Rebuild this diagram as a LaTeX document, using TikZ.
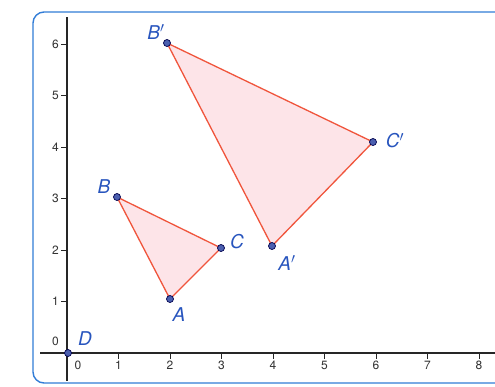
\documentclass[tikz,border=0pt]{standalone}
\usepackage{fontspec}
\setmainfont{TeX Gyre Heros}
\begin{document}
\begin{tikzpicture}[x=1pt,y=-1pt,
  frameline/.style={draw=framec,line width=1.4pt},
  axisline/.style={draw=black!85,line width=1.1pt},
  tickmark/.style={draw=black!85,line width=0.8pt},
  ticklabel/.style={font=\fontsize{12}{12}\selectfont,text=black!80,inner sep=0pt},
  tri/.style={draw=trired,fill=trifill,line width=1.3pt,line join=round},
  ptdot/.style={circle,draw=black!70!blue,fill=dotc,line width=0.7pt,minimum size=7pt,inner sep=0pt},
  ptlabel/.style={font=\fontsize{19}{19}\selectfont\itshape,text=labc,inner sep=0pt}]
\definecolor{framec}{RGB}{50,125,215}
\definecolor{trired}{RGB}{240,85,60}
\definecolor{trifill}{RGB}{253,228,232}
\definecolor{dotc}{RGB}{75,95,175}
\definecolor{labc}{RGB}{40,85,190}
\useasboundingbox (0,0) rectangle (495,386);
\fill[white] (0,0) rectangle (495,386);
% frame
\draw[frameline,rounded corners=11pt] (505,12) -- (33,12) -- (33,383) -- (505,383);
% axes
\draw[axisline] (40,353) -- (495,353);
\draw[axisline] (67,17) -- (67,381);
% y ticks
\foreach \i in {1,...,6} {
  \draw[tickmark] (61,353-51.5*\i) -- (67,353-51.5*\i);
  \node[ticklabel,anchor=east] (yl\i) at (59,353-51.5*\i) {\i};
}
\node[ticklabel,anchor=east] (yl0) at (59,341) {0};
% x ticks
\foreach \i in {1,...,8} {
  \draw[tickmark] (67+51.5*\i,353) -- (67+51.5*\i,359);
  \node[ticklabel,anchor=north] (xl\i) at (67+51.5*\i,361) {\i};
}
\node[ticklabel,anchor=north] (xl0) at (78,361) {0};
% points
\coordinate (A) at (170,299);
\coordinate (B) at (117,197);
\coordinate (C) at (221,248);
\coordinate (Ap) at (272,246);
\coordinate (Bp) at (167,43);
\coordinate (Cp) at (373,142);
\coordinate (D) at (68,353);
% triangles
\draw[tri] (A) -- (B) -- (C) -- cycle;
\draw[tri] (Ap) -- (Bp) -- (Cp) -- cycle;
% dots
\foreach \p in {A,B,C,Ap,Bp,Cp,D} { \node[ptdot] (d\p) at (\p) {}; }
% labels
\node[ptlabel] (lA) at (179,315) {A};
\node[ptlabel] (lB) at (104,187) {B};
\node[ptlabel] (lC) at (237,242) {C};
\node[ptlabel] (lAp) at (287,263) {A$'$};
\node[ptlabel] (lBp) at (156,32) {B$'$};
\node[ptlabel] (lCp) at (395,141) {C$'$};
\node[ptlabel] (lD) at (85,339) {D};
\end{tikzpicture}
\end{document}
